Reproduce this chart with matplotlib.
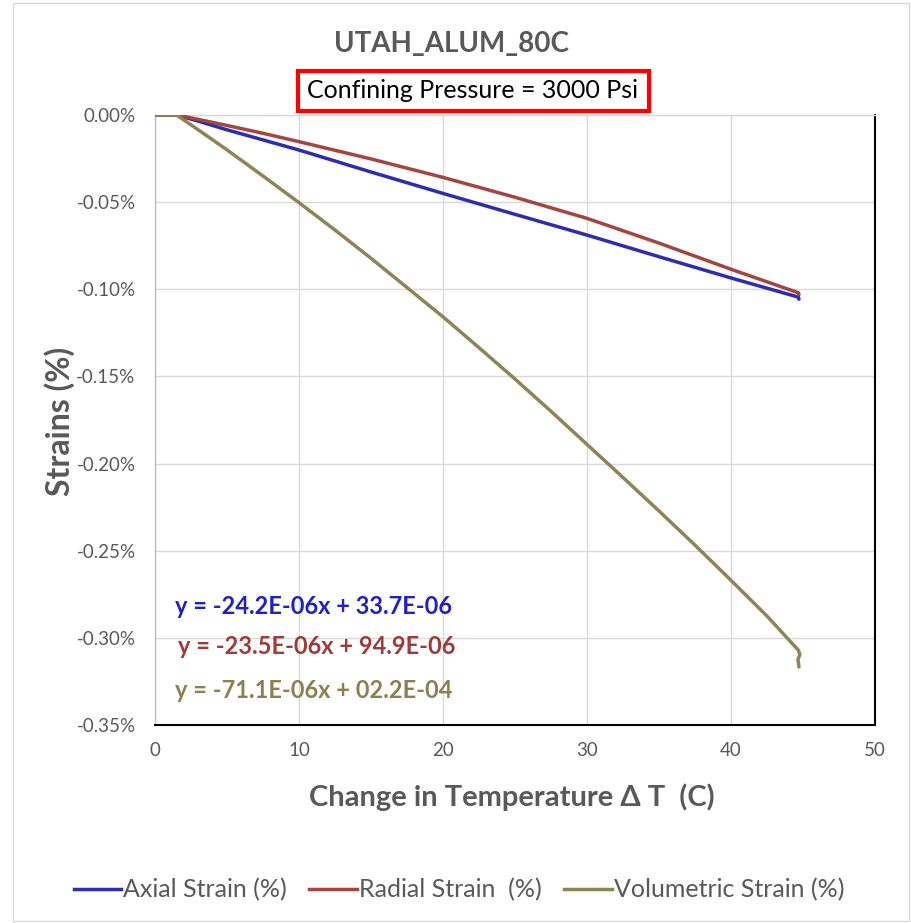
import matplotlib
matplotlib.use("Agg")
import matplotlib.pyplot as plt
from matplotlib.patches import Rectangle
from matplotlib.lines import Line2D

plt.rcParams['font.family'] = ['Lato', 'DejaVu Sans']

# ---------------- data ----------------
axial_x = [0, 1.5, 3, 5, 10, 15, 20, 25, 30, 35, 40, 44.68, 44.72]
axial_y = [0, 0.0, -0.0035, -0.0085, -0.0201, -0.0327, -0.0450, -0.0570,
           -0.0689, -0.0813, -0.0935, -0.1045, -0.1057]

radial_x = [0, 1.5, 3, 5, 7.5, 10, 15, 20, 25, 30, 35, 40, 44.68, 44.72]
radial_y = [0, 0.0, -0.0025, -0.0060, -0.0105, -0.0153, -0.0252, -0.0358,
            -0.0472, -0.0593, -0.0735, -0.0885, -0.1020, -0.1030]

vol_x = [0, 1.5, 3, 5, 7.5, 10, 12.5, 15, 17.5, 20, 22.5, 25, 27.5, 30,
         32.5, 35, 37.5, 40, 42.5, 44.68, 44.78, 44.65, 44.72]
vol_y = [0, 0.0, -0.0085, -0.0200, -0.0350, -0.0503, -0.0660, -0.0822,
         -0.0990, -0.1158, -0.1335, -0.1515, -0.1700, -0.1890, -0.2080,
         -0.2272, -0.2468, -0.2670, -0.2875, -0.3071, -0.3095, -0.3125, -0.3167]

x_ticks = [0, 10, 20, 30, 40, 50]
y_ticks = [0.0, -0.05, -0.10, -0.15, -0.20, -0.25, -0.30, -0.35]
y_tick_labels = ["0.00%", "-0.05%", "-0.10%", "-0.15%", "-0.20%", "-0.25%", "-0.30%", "-0.35%"]

series_names = ["Axial Strain (%)", "Radial Strain  (%)", "Volumetric Strain (%)"]
equations = ["y = -24.2E-06x + 33.7E-06",
             "y = -23.5E-06x + 94.9E-06",
             "y = -71.1E-06x + 02.2E-04"]

title = "UTAH_ALUM_80C"
subtitle = "Confining Pressure = 3000 Psi"
xlabel = "Change in Temperature \u0394 T  (C)"
ylabel = "Strains (%)"

# ---------------- style ----------------
C_AX = "#2D2DB4"
C_RA = "#A3463F"
C_VO = "#8E8456"
C_TXT = "#595959"
W, H = 912, 923

fig = plt.figure(figsize=(W / 100, H / 100), dpi=100)

def fx(px):
    return px / W

def fy(py):
    return 1 - py / H

ax = fig.add_axes([fx(155), fy(725), (875 - 155) / W, (725 - 115) / H])

ax.plot(axial_x, axial_y, color=C_AX, lw=2.5, solid_capstyle='round', zorder=3)
ax.plot(radial_x, radial_y, color=C_RA, lw=2.5, solid_capstyle='round', zorder=3)
ax.plot(vol_x, vol_y, color=C_VO, lw=2.5, solid_capstyle='round', zorder=3)

ax.set_xlim(0, 50)
ax.set_ylim(-0.35, 0.0)
ax.set_xticks(x_ticks)
ax.set_xticklabels([str(v) for v in x_ticks])
ax.set_yticks(y_ticks)
ax.set_yticklabels(y_tick_labels)
ax.tick_params(length=0, colors=C_TXT, labelsize=13.5)
ax.tick_params(axis='x', pad=12)
ax.tick_params(axis='y', pad=14)
ax.grid(True, color="#D9D9D9", lw=1.0, zorder=0)
ax.set_axisbelow(True)

ax.spines['left'].set_color("#BFBFBF")
ax.spines['left'].set_linewidth(1.0)
ax.spines['top'].set_color("#D9D9D9")
ax.spines['top'].set_linewidth(1.0)
ax.spines['right'].set_color("black")
ax.spines['right'].set_linewidth(1.5)
ax.spines['bottom'].set_color("black")
ax.spines['bottom'].set_linewidth(1.5)

# titles
fig.text(fx(452), fy(44), title, ha='center', va='center', fontsize=20,
         fontweight='bold', color=C_TXT)
fig.patches.append(Rectangle((fx(298), fy(111)), (649 - 298) / W, (111 - 71) / H,
                             transform=fig.transFigure, fill=False,
                             edgecolor="#FF0000", lw=3, zorder=5))
fig.text(fx(473), fy(90), subtitle, ha='center', va='center', fontsize=18,
         color='black')

# axis labels
fig.text(fx(512), fy(797), xlabel, ha='center', va='center', fontsize=21,
         fontweight='bold', color=C_TXT)
fig.text(fx(60), fy(421), ylabel, ha='center', va='center', fontsize=23,
         fontweight='bold', color=C_TXT, rotation=90)

# equations
eq_colors = ["#2020C4", "#A03A3A", "#8C8050"]
eq_pos = [(175, 607), (178, 647), (175, 690)]
for t, c, (px, py) in zip(equations, eq_colors, eq_pos):
    fig.text(fx(px), fy(py), t, ha='left', va='center', fontsize=17,
             fontweight='bold', color=c)

# legend
handles = [Line2D([], [], color=C_AX, lw=2.5),
           Line2D([], [], color=C_RA, lw=2.5),
           Line2D([], [], color=C_VO, lw=2.5)]
leg = fig.legend(handles, series_names, loc='center', ncol=3,
                 bbox_to_anchor=(fx(459), fy(890)), frameon=False,
                 fontsize=18, handlelength=1.9, handletextpad=0.08,
                 columnspacing=0.9)
for t in leg.get_texts():
    t.set_color(C_TXT)

# outer border
fig.patches.append(Rectangle((fx(13), fy(921)), (909 - 13) / W, (921 - 3) / H,
                             transform=fig.transFigure, fill=False,
                             edgecolor="#D9D9D9", lw=1.0))

fig.savefig("out.png", dpi=100, facecolor='white')
